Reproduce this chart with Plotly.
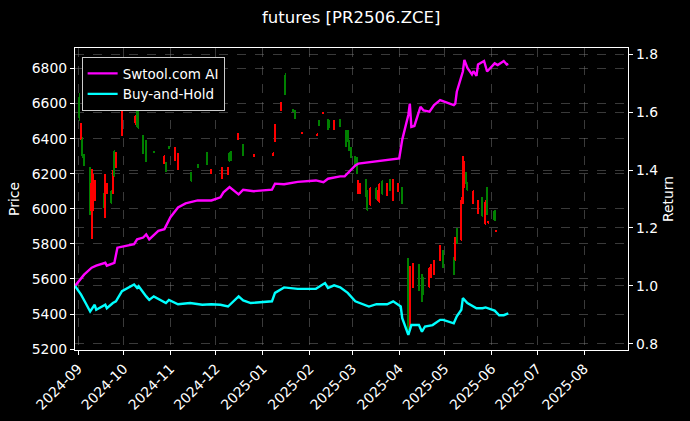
import plotly.graph_objects as go

# daily candles (red = up, green = down)
candle_dates = [
    "2024-09-02", "2024-09-03", "2024-09-04", "2024-09-05", "2024-09-09", "2024-09-10",
    "2024-09-11", "2024-09-12", "2024-09-18", "2024-09-19", "2024-09-20", "2024-09-23",
    "2024-09-24", "2024-09-25", "2024-09-26", "2024-09-30", "2024-10-08", "2024-10-09",
    "2024-10-10", "2024-10-11", "2024-10-14", "2024-10-16", "2024-10-21", "2024-10-28",
    "2024-10-29", "2024-10-31", "2024-11-04", "2024-11-06", "2024-11-15", "2024-11-19",
    "2024-11-25", "2024-11-28", "2024-12-05", "2024-12-09", "2024-12-10", "2024-12-11",
    "2024-12-16", "2024-12-19", "2024-12-26", "2025-01-08", "2025-01-09", "2025-01-13",
    "2025-01-16", "2025-01-21", "2025-01-22", "2025-01-27", "2025-02-06", "2025-02-07",
    "2025-02-10", "2025-02-13", "2025-02-14", "2025-02-17", "2025-02-21", "2025-02-25",
    "2025-02-26", "2025-02-27", "2025-02-28", "2025-03-03", "2025-03-04", "2025-03-05",
    "2025-03-06", "2025-03-10", "2025-03-11", "2025-03-13", "2025-03-17", "2025-03-18",
    "2025-03-19", "2025-03-21", "2025-03-24", "2025-03-26", "2025-03-28", "2025-03-31",
    "2025-04-03", "2025-04-07", "2025-04-08", "2025-04-10", "2025-04-14", "2025-04-16",
    "2025-04-17", "2025-04-21", "2025-04-22", "2025-04-24", "2025-04-28", "2025-04-30",
    "2025-05-07", "2025-05-08", "2025-05-09", "2025-05-12", "2025-05-13", "2025-05-14",
    "2025-05-15", "2025-05-16", "2025-05-20", "2025-05-23", "2025-05-26", "2025-05-28",
    "2025-05-29", "2025-05-30", "2025-06-03", "2025-06-04",
]
opens = [
    6640, 6400, 6400, 6310, 6230, 5990, 6000, 6060, 6080, 5960, 6090, 6100,
    6090, 6330, 6240, 6420, 6655, 6490, 6550, 6585, 6415, 6385, 6325, 6258,
    6265, 6357, 6280, 6225, 6208, 6255, 6320, 6200, 6172, 6193, 6320, 6330,
    6395, 6368, 6300, 6304, 6382, 6562, 6765, 6570, 6560, 6434, 6418, 6503,
    6545, 6512, 6505, 6450, 6512, 6445, 6440, 6385, 6350, 6295, 6290, 6090,
    6088, 6168, 6100, 6020, 6120, 6050, 6040, 6160, 6080, 6168, 6050, 6100,
    6120, 5710, 5400, 5555, 5680, 5625, 5605, 5555, 5612, 5630, 5706, 5760,
    5720, 5706, 5880, 5820, 6030, 6125, 6205, 6150, 6030, 5975, 6065, 5915,
    6120, 5920, 5988, 5872,
]
highs = [
    6660, 6490, 6410, 6315, 6240, 6225, 6200, 6165, 6090, 6200, 6150, 6105,
    6220, 6335, 6325, 6555, 6665, 6535, 6555, 6595, 6420, 6390, 6330, 6305,
    6268, 6360, 6352, 6318, 6212, 6258, 6325, 6228, 6237, 6237, 6323, 6332,
    6433, 6370, 6310, 6323, 6485, 6609, 6772, 6572, 6562, 6440, 6430, 6506,
    6552, 6514, 6508, 6507, 6514, 6450, 6450, 6390, 6352, 6300, 6295, 6162,
    6145, 6172, 6105, 6125, 6125, 6110, 6145, 6162, 6150, 6172, 6172, 6150,
    6125, 5720, 5675, 5690, 5688, 5630, 5610, 5668, 5688, 5706, 5792, 5765,
    5725, 5840, 5888, 6070, 6300, 6270, 6212, 6155, 6105, 6050, 6070, 6050,
    6125, 5930, 5992, 5880,
]
lows = [
    6500, 6390, 6290, 6245, 5965, 5830, 5990, 6045, 6005, 5950, 6085, 6025,
    6085, 6180, 6235, 6415, 6575, 6480, 6465, 6455, 6310, 6265, 6318, 6255,
    6208, 6340, 6275, 6220, 6155, 6235, 6252, 6198, 6169, 6191, 6268, 6275,
    6393, 6304, 6298, 6302, 6380, 6560, 6647, 6551, 6513, 6432, 6416, 6475,
    6543, 6447, 6460, 6447, 6466, 6351, 6380, 6330, 6290, 6238, 6200, 6083,
    6083, 6065, 5990, 6015, 6050, 6045, 6035, 6080, 6075, 6100, 6045, 6095,
    6025, 5310, 5310, 5550, 5530, 5470, 5510, 5550, 5608, 5625, 5700, 5665,
    5625, 5700, 5798, 5815, 6025, 6120, 6140, 6100, 6025, 5970, 5955, 5910,
    5965, 5915, 5930, 5870,
]
closes = [
    6520, 6480, 6300, 6255, 5980, 6150, 6180, 6150, 6015, 6180, 6140, 6035,
    6210, 6190, 6320, 6540, 6580, 6530, 6470, 6460, 6315, 6270, 6320, 6300,
    6212, 6342, 6345, 6315, 6160, 6238, 6255, 6225, 6232, 6235, 6270, 6280,
    6430, 6308, 6307, 6320, 6480, 6605, 6650, 6553, 6515, 6438, 6427, 6477,
    6550, 6450, 6462, 6505, 6468, 6355, 6385, 6335, 6295, 6240, 6205, 6158,
    6140, 6070, 5995, 6120, 6055, 6105, 6140, 6085, 6145, 6105, 6160, 6145,
    6030, 5440, 5640, 5680, 5540, 5480, 5520, 5660, 5680, 5700, 5785, 5670,
    5630, 5830, 5805, 6050, 6270, 6260, 6150, 6110, 6100, 6045, 5960, 6040,
    5975, 5928, 5935, 5878,
]

# strategy equity curve (right axis)
strat_dates = [
    "2024-08-30", "2024-09-05", "2024-09-10", "2024-09-13", "2024-09-19", "2024-09-20",
    "2024-09-25", "2024-09-27", "2024-10-08", "2024-10-10", "2024-10-14", "2024-10-16",
    "2024-10-18", "2024-10-24", "2024-10-28", "2024-11-01", "2024-11-06", "2024-11-11",
    "2024-11-19", "2024-11-28", "2024-12-04", "2024-12-06", "2024-12-10", "2024-12-13",
    "2024-12-16", "2024-12-19", "2024-12-26", "2025-01-07", "2025-01-09", "2025-01-15",
    "2025-01-24", "2025-02-05", "2025-02-10", "2025-02-13", "2025-02-21", "2025-02-24",
    "2025-02-27", "2025-03-03", "2025-03-05", "2025-03-14", "2025-03-25", "2025-04-01",
    "2025-04-03", "2025-04-07", "2025-04-08", "2025-04-09", "2025-04-11", "2025-04-15",
    "2025-04-17", "2025-04-21", "2025-04-24", "2025-04-28", "2025-05-07", "2025-05-08",
    "2025-05-09", "2025-05-13", "2025-05-14", "2025-05-16", "2025-05-19", "2025-05-20",
    "2025-05-22", "2025-05-23", "2025-05-27", "2025-05-29", "2025-06-03", "2025-06-05",
    "2025-06-09", "2025-06-11", "2025-06-12",
]
strat_values = [
    1.000, 1.039, 1.063, 1.070, 1.080, 1.070,
    1.080, 1.132, 1.144, 1.161, 1.167, 1.178,
    1.161, 1.190, 1.196, 1.237, 1.271, 1.285,
    1.295, 1.295, 1.306, 1.323, 1.341, 1.327,
    1.316, 1.332, 1.327, 1.332, 1.353, 1.351,
    1.359, 1.364, 1.358, 1.370, 1.378, 1.378,
    1.393, 1.416, 1.422, 1.428, 1.434, 1.440,
    1.505, 1.590, 1.629, 1.549, 1.552, 1.618,
    1.606, 1.601, 1.624, 1.641, 1.624, 1.629,
    1.670, 1.740, 1.780, 1.752, 1.730, 1.741,
    1.725, 1.764, 1.776, 1.740, 1.768, 1.762,
    1.776, 1.764, 1.766,
]

# buy-and-hold curve (right axis)
bh_dates = [
    "2024-08-30", "2024-09-03", "2024-09-06", "2024-09-09", "2024-09-12", "2024-09-13",
    "2024-09-19", "2024-09-20", "2024-09-24", "2024-09-26", "2024-09-30", "2024-10-08",
    "2024-10-10", "2024-10-11", "2024-10-16", "2024-10-18", "2024-10-21", "2024-10-25",
    "2024-10-29", "2024-10-31", "2024-11-06", "2024-11-14", "2024-11-22", "2024-11-28",
    "2024-12-04", "2024-12-09", "2024-12-16", "2024-12-19", "2024-12-24", "2025-01-07",
    "2025-01-09", "2025-01-15", "2025-01-24", "2025-02-05", "2025-02-11", "2025-02-13",
    "2025-02-17", "2025-02-21", "2025-02-26", "2025-03-03", "2025-03-12", "2025-03-17",
    "2025-03-24", "2025-03-28", "2025-04-02", "2025-04-03", "2025-04-07", "2025-04-09",
    "2025-04-14", "2025-04-16", "2025-04-18", "2025-04-23", "2025-04-28", "2025-04-30",
    "2025-05-07", "2025-05-09", "2025-05-12", "2025-05-13", "2025-05-16", "2025-05-22",
    "2025-05-26", "2025-05-28", "2025-06-03", "2025-06-06", "2025-06-09", "2025-06-12",
]
bh_values = [
    1.000, 0.970, 0.941, 0.912, 0.935, 0.918,
    0.935, 0.923, 0.941, 0.947, 0.982, 1.005,
    0.993, 0.999, 0.964, 0.952, 0.964, 0.952,
    0.941, 0.952, 0.937, 0.941, 0.935, 0.937,
    0.935, 0.929, 0.964, 0.950, 0.941, 0.947,
    0.976, 0.995, 0.990, 0.990, 1.010, 0.993,
    1.002, 0.995, 0.976, 0.947, 0.929, 0.937,
    0.937, 0.947, 0.929, 0.889, 0.831, 0.865,
    0.865, 0.842, 0.860, 0.865, 0.883, 0.883,
    0.871, 0.895, 0.918, 0.958, 0.941, 0.923,
    0.923, 0.926, 0.915, 0.899, 0.899, 0.905,
]

month_ticks = [
    "2024-09-01", "2024-10-01", "2024-11-01", "2024-12-01", "2025-01-01", "2025-02-01",
    "2025-03-01", "2025-04-01", "2025-05-01", "2025-06-01", "2025-07-01", "2025-08-01",
]
month_labels = [d[:7] for d in month_ticks]
price_ticks = [5200, 5400, 5600, 5800, 6000, 6200, 6400, 6600, 6800]
return_ticks = [0.8, 1.0, 1.2, 1.4, 1.6, 1.8]
return_labels = ["0.8", "1.0", "1.2", "1.4", "1.6", "1.8"]

FONT = "DejaVu Sans"
GRID = "rgba(128,128,128,0.45)"
DAY_MS = 86400000

# candles drawn as thin bars: a wick (low..high) and a body (open..close)
colors = ["red" if c >= o else "green" for o, c in zip(opens, closes)]
body_base = [min(o, c) for o, c in zip(opens, closes)]
body_len = [max(abs(c - o), 4) for o, c in zip(opens, closes)]
wick_len = [h - l for h, l in zip(highs, lows)]

fig = go.Figure()

fig.add_trace(go.Bar(
    x=candle_dates, y=wick_len, base=lows, width=DAY_MS * 0.45,
    marker=dict(color=colors, line=dict(width=0)),
    showlegend=False, hoverinfo="skip", yaxis="y"
))
fig.add_trace(go.Bar(
    x=candle_dates, y=body_len, base=body_base, width=DAY_MS * 0.9,
    marker=dict(color=colors, line=dict(width=0)),
    showlegend=False, yaxis="y"
))

fig.add_trace(go.Scatter(
    x=strat_dates, y=strat_values, mode="lines", name="Swtool.com AI",
    line=dict(color="#ff00ff", width=2.4), yaxis="y2"
))

fig.add_trace(go.Scatter(
    x=bh_dates, y=bh_values, mode="lines", name="Buy-and-Hold",
    line=dict(color="#00ffff", width=2.4), yaxis="y2"
))

fig.update_layout(
    width=690, height=421,
    margin=dict(l=75, r=62, t=48, b=71),
    paper_bgcolor="black", plot_bgcolor="black",
    font=dict(family=FONT, size=13.9, color="white"),
    barmode="overlay", bargap=0,
    title=dict(text="futures [PR2506.ZCE]", x=0.509, xanchor="center",
               y=0.958, yanchor="middle", font=dict(size=16.5, color="white")),
    xaxis=dict(
        type="date", range=["2024-08-30", "2025-08-30"],
        tickmode="array", tickvals=month_ticks, ticktext=month_labels,
        tickangle=-45, ticks="outside", ticklen=4, tickcolor="white",
        showline=True, linecolor="white", linewidth=1.2, mirror=True,
        showgrid=True, gridcolor=GRID, griddash="dash", gridwidth=0.8,
        zeroline=False, automargin=False,
    ),
    yaxis=dict(
        range=[5195, 6917], tickvals=price_ticks,
        ticks="outside", ticklen=4, tickcolor="white",
        showline=True, linecolor="white", linewidth=1.2,
        showgrid=True, gridcolor=GRID, griddash="dash", gridwidth=0.8,
        zeroline=False, automargin=False,
        title=dict(text="Price", standoff=8, font=dict(size=13.9)),
    ),
    yaxis2=dict(
        range=[0.779, 1.821], tickvals=return_ticks, ticktext=return_labels,
        overlaying="y", side="right",
        ticks="outside", ticklen=4, tickcolor="white",
        showline=True, linecolor="white", linewidth=1.2,
        showgrid=True, gridcolor=GRID, griddash="dash", gridwidth=0.8,
        zeroline=False, automargin=False,
        title=dict(text="Return", standoff=6, font=dict(size=13.9)),
    ),
    legend=dict(
        x=0.012, y=0.97, xanchor="left", yanchor="top",
        bgcolor="black", bordercolor="#cccccc", borderwidth=1,
        font=dict(size=13.5, color="white"),
        tracegroupgap=0, itemwidth=30,
    ),
    showlegend=True,
)

# drop the default page margin so the figure sits at the window's corner
fig.write_html("out.html", config={"displayModeBar": False},
               post_script="document.body.style.margin='0';")
